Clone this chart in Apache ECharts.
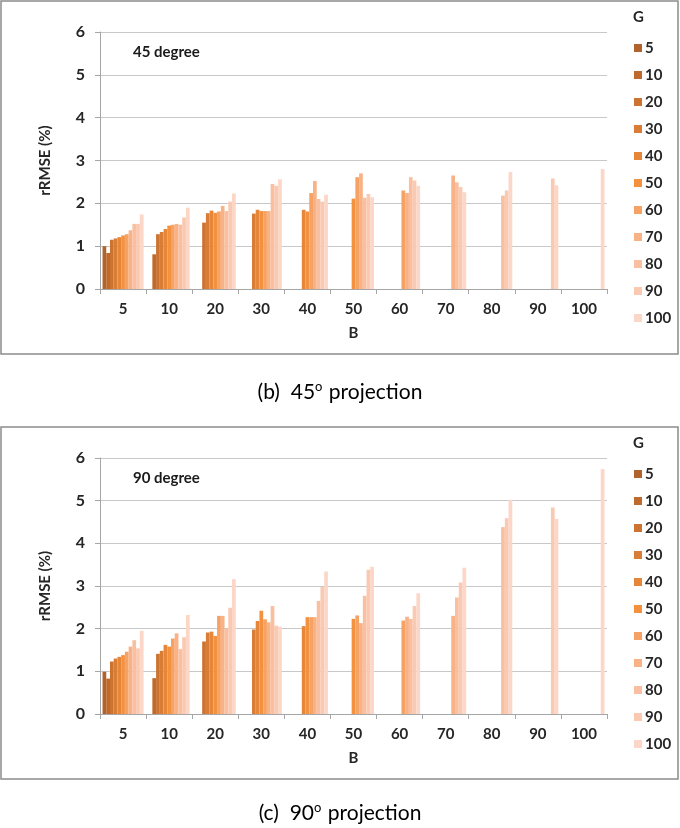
<!DOCTYPE html>
<html>
<head>
<meta charset="utf-8">
<script src="https://cdn.jsdelivr.net/npm/echarts@6/dist/echarts.min.js"></script>
<style>
html,body{margin:0;padding:0;background:#fff;}
#chart{width:680px;height:828px;}
</style>
</head>
<body>
<div id="chart"></div>
<script>
// B categories (x axis) and G levels (series)
const categoriesB = ['5','10','20','30','40','50','60','70','80','90','100'];
const levelsG = ['5','10','20','30','40','50','60','70','80','90','100'];
const yTicks = [0,1,2,3,4,5,6];

// rRMSE (%) for 45 degree projection; row i = B category i, values for G >= B
const rmse45_B5   = [1.00,0.84,1.15,1.18,1.21,1.25,1.28,1.37,1.52,1.52,1.74];
const rmse45_B10  = [0.81,1.28,1.33,1.40,1.48,1.50,1.52,1.50,1.67,1.90];
const rmse45_B20  = [1.55,1.77,1.83,1.78,1.81,1.94,1.82,2.04,2.23];
const rmse45_B30  = [1.76,1.85,1.82,1.82,1.82,2.45,2.41,2.56];
const rmse45_B40  = [1.85,1.81,2.24,2.52,2.10,2.04,2.20];
const rmse45_B50  = [2.11,2.61,2.70,2.13,2.22,2.14];
const rmse45_B60  = [2.30,2.24,2.61,2.53,2.41];
const rmse45_B70  = [2.65,2.49,2.38,2.26];
const rmse45_B80  = [2.18,2.30,2.73];
const rmse45_B90  = [2.58,2.42];
const rmse45_B100 = [2.80];

// rRMSE (%) for 90 degree projection
const rmse90_B5   = [0.99,0.83,1.23,1.30,1.34,1.38,1.46,1.58,1.73,1.54,1.95];
const rmse90_B10  = [0.84,1.41,1.48,1.62,1.58,1.77,1.89,1.52,1.80,2.32];
const rmse90_B20  = [1.70,1.91,1.93,1.83,2.30,2.30,2.00,2.49,3.16];
const rmse90_B30  = [1.98,2.18,2.42,2.22,2.15,2.53,2.07,2.05];
const rmse90_B40  = [2.06,2.27,2.27,2.27,2.65,2.98,3.34];
const rmse90_B50  = [2.23,2.31,2.13,2.77,3.38,3.45];
const rmse90_B60  = [2.19,2.28,2.23,2.53,2.83];
const rmse90_B70  = [2.30,2.73,3.08,3.43];
const rmse90_B80  = [4.38,4.59,5.02];
const rmse90_B90  = [4.84,4.57];
const rmse90_B100 = [5.74];

const rows45 = [rmse45_B5,rmse45_B10,rmse45_B20,rmse45_B30,rmse45_B40,rmse45_B50,rmse45_B60,rmse45_B70,rmse45_B80,rmse45_B90,rmse45_B100];
const rows90 = [rmse90_B5,rmse90_B10,rmse90_B20,rmse90_B30,rmse90_B40,rmse90_B50,rmse90_B60,rmse90_B70,rmse90_B80,rmse90_B90,rmse90_B100];

const colors = ['#b0632a','#bf6a2d','#cc7331','#d97c35','#e68639','#f4913f','#f6a264','#f8b286','#f9bfa0','#fac9b1','#fcd6c7'];

const FONT = 'Lato, "Open Sans", sans-serif';

function seriesFor(rows, axisIdx){
  return levelsG.map((g, j) => {
    const data = categoriesB.map((b, i) => {
      const k = j - i;
      return (k >= 0 && k < rows[i].length) ? rows[i][k] : null;
    });
    return {
      name: g, type: 'bar', xAxisIndex: axisIdx, yAxisIndex: axisIdx,
      data: data, barGap: '0%', barCategoryGap: '11%',
      itemStyle: {color: colors[j]}, emphasis: {disabled: true}
    };
  });
}

function xAxisFor(idx){
  return {
    type: 'category', gridIndex: idx, data: categoriesB,
    boundaryGap: true,
    axisLine: {lineStyle: {color: '#a6a6a6', width: 1}},
    axisTick: {show: true, length: 5, lineStyle: {color: '#a6a6a6'}},
    axisLabel: {color: '#262626', fontFamily: FONT, fontWeight: 'bold', fontSize: 15, margin: 13},
    name: 'B', nameLocation: 'middle', nameGap: 37,
    nameTextStyle: {color: '#262626', fontFamily: FONT, fontWeight: 'bold', fontSize: 15}
  };
}
function yAxisFor(idx){
  return {
    type: 'value', gridIndex: idx, min: yTicks[0], max: yTicks[yTicks.length-1], interval: 1,
    axisLine: {show: true, lineStyle: {color: '#a6a6a6', width: 1}},
    axisTick: {show: true, length: 5, lineStyle: {color: '#a6a6a6'}},
    axisLabel: {color: '#262626', fontFamily: FONT, fontWeight: 'bold', fontSize: 16, margin: 15},
    splitLine: {lineStyle: {color: '#c8c8c8', width: 1}},
    name: 'rRMSE (%)', nameLocation: 'middle', nameGap: 47,
    nameTextStyle: {color: '#262626', fontFamily: FONT, fontWeight: 'bold', fontSize: 15}
  };
}
function legendFor(top){
  return {
    orient: 'vertical', left: 629, top: top,
    data: levelsG, icon: 'rect', itemWidth: 8, itemHeight: 8, itemGap: 11,
    selectedMode: false,
    textStyle: {color: '#262626', fontFamily: FONT, fontWeight: 'bold', fontSize: 15, lineHeight: 16, padding: [0,0,0,-2]}
  };
}
function caption(text, y){
  return {
    type: 'text', left: 'center', top: y,
    style: {
      text: '{n|' + text[0] + '}{s|o}{n|' + text[1] + '}',
      rich: {
        n: {fontFamily: FONT, fontSize: 21, color: '#1a1a1a', lineHeight: 26},
        s: {fontFamily: FONT, fontSize: 13, color: '#1a1a1a', lineHeight: 26, verticalAlign: 'top', padding: [1,1,0,0]}
      }
    }
  };
}

const chart = echarts.init(document.getElementById('chart'), null, {renderer: 'canvas'});
chart.setOption({
  animation: false,
  backgroundColor: '#ffffff',
  grid: [
    {left: 100, right: 73, top: 32, height: 257},
    {left: 100, right: 73, top: 458, height: 256}
  ],
  xAxis: [xAxisFor(0), xAxisFor(1)],
  yAxis: [yAxisFor(0), yAxisFor(1)],
  legend: [legendFor(35), legendFor(461)],
  series: seriesFor(rows45, 0).concat(seriesFor(rows90, 1)),
  graphic: [
    {type: 'rect', shape: {x: 1, y: 1, width: 677, height: 353}, style: {fill: 'none', stroke: '#8c8c8c', lineWidth: 1.5}, silent: true},
    {type: 'rect', shape: {x: 1, y: 427, width: 677, height: 352}, style: {fill: 'none', stroke: '#8c8c8c', lineWidth: 1.5}, silent: true},
    {type: 'text', left: 633, top: 10, style: {text: 'G', fontFamily: FONT, fontWeight: 'bold', fontSize: 15, fill: '#262626'}},
    {type: 'text', left: 633, top: 436, style: {text: 'G', fontFamily: FONT, fontWeight: 'bold', fontSize: 15, fill: '#262626'}},
    {type: 'text', left: 133, top: 45, style: {text: '45 degree', fontFamily: FONT, fontWeight: 'bold', fontSize: 15, fill: '#1a1a1a'}},
    {type: 'text', left: 133, top: 471, style: {text: '90 degree', fontFamily: FONT, fontWeight: 'bold', fontSize: 15, fill: '#1a1a1a'}},
    caption(['(b)  45', ' projection'], 379),
    caption(['(c)  90', ' projection'], 800)
  ]
});
</script>
</body>
</html>
